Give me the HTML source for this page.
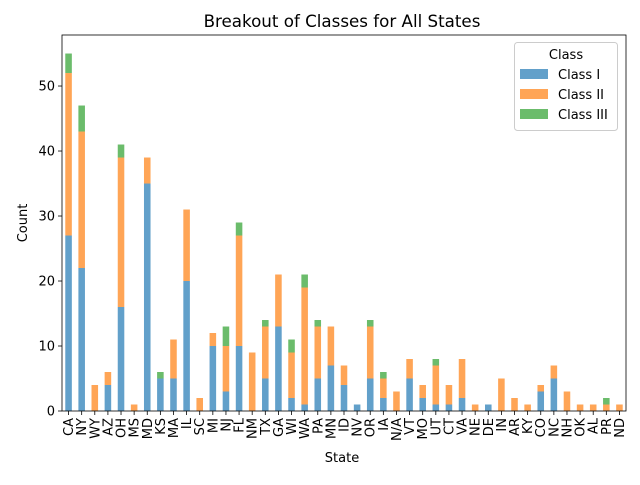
<!DOCTYPE html>
<html><head><meta charset="utf-8"><style>
body{margin:0;background:#fff}
svg{font-family:"DejaVu Sans","Liberation Sans",sans-serif}
</style></head><body>
<svg id="chart" width="640" height="480" xmlns="http://www.w3.org/2000/svg">
<rect width="640" height="480" fill="#fff"/>
<text x="342" y="27" text-anchor="middle" font-size="16.7">Breakout of Classes for All States</text>
<g id="bars"></g>
<g id="axes"></g>
<text x="342" y="462" text-anchor="middle" font-size="13">State</text>
<text transform="translate(27,223) rotate(-90)" text-anchor="middle" font-size="13">Count</text>
<g>
<rect x="514.5" y="42.5" width="103" height="88" rx="3" fill="#fff" fill-opacity="0.8" stroke="#ccc"/>
<text x="566" y="59" text-anchor="middle" font-size="13">Class</text>
<g><rect x="520" y="69" width="28" height="10" fill="#62a0ca"/><text x="558" y="79" font-size="13">Class I</text></g>
<g><rect x="520" y="89" width="28" height="10" fill="#ffa556"/><text x="558" y="99" font-size="13">Class II</text></g>
<g><rect x="520" y="109" width="28" height="10" fill="#6bbc6b"/><text x="558" y="119" font-size="13">Class III</text></g>
</g>
</svg>
<script>
const states=["CA","NY","WY","AZ","OH","MS","MD","KS","MA","IL","SC","MI","NJ","FL","NM","TX","GA","WI","WA","PA","MN","ID","NV","OR","IA","N/A","VT","MO","UT","CT","VA","NE","DE","IN","AR","KY","CO","NC","NH","OK","AL","PR","ND"];
const classI=[27,22,0,4,16,0,35,5,5,20,0,10,3,10,0,5,13,2,1,5,7,4,1,5,2,0,5,2,1,1,2,0,1,0,0,0,3,5,0,0,0,0,0];
const classII=[25,21,4,2,23,1,4,0,6,11,2,2,7,17,9,8,8,7,18,8,6,3,0,8,3,3,3,2,6,3,6,1,0,5,2,1,1,2,3,1,1,1,1];
const classIII=[3,4,0,0,2,0,0,1,0,0,0,0,3,2,0,1,0,2,2,1,0,0,0,1,1,0,0,0,1,0,0,0,0,0,0,0,0,0,0,0,0,1,0];
const yTicks=[0,10,20,30,40,50];
const L=62,R=626,T=35,B=411,yMax=57.85;
const NS="http://www.w3.org/2000/svg";
const step=(R-L)/states.length;
const x=i=>L+step*(i+0.5);
const y=v=>B-(B-T)*v/yMax;
const bars=document.getElementById('bars'),axes=document.getElementById('axes');
function mk(tag,attrs,parent){const e=document.createElementNS(NS,tag);for(const k in attrs)e.setAttribute(k,attrs[k]);parent.appendChild(e);return e;}
const series=[[classI,"#62a0ca","class-i"],[classII,"#ffa556","class-ii"],[classIII,"#6bbc6b","class-iii"]];
states.forEach((s,i)=>{let base=0;series.forEach(([arr,col,nm])=>{const v=arr[i];if(v>0){const r=mk('rect',{x:x(i)-step/4,width:step/2,y:y(base+v),height:y(base)-y(base+v),fill:col},bars);

}base+=v;});
mk('line',{x1:x(i),x2:x(i),y1:B,y2:B+4,stroke:'#000','stroke-width':0.8},axes);
const t=mk('text',{transform:`translate(${x(i)+4.5},${B+7}) rotate(-90)`,'text-anchor':'end','font-size':13},axes);t.textContent=s;

});
yTicks.forEach(v=>{mk('line',{x1:L-4,x2:L,y1:y(v),y2:y(v),stroke:'#000','stroke-width':0.8},axes);
const t=mk('text',{x:L-7,y:y(v)+4.5,'text-anchor':'end','font-size':13},axes);t.textContent=v;

});
const fr=mk('rect',{x:L,y:T,width:R-L,height:B-T,fill:'none',stroke:'#000','stroke-width':0.8},axes);


</script>
</body></html>
